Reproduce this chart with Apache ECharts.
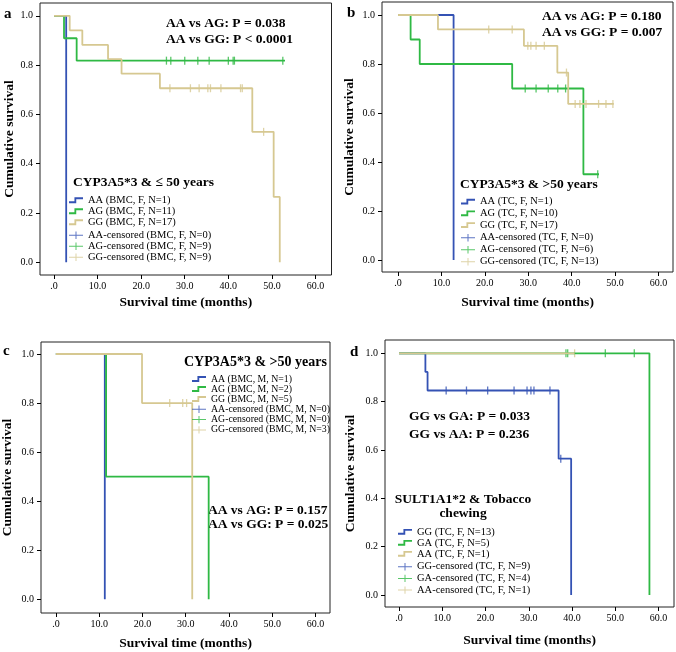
<!DOCTYPE html>
<html>
<head>
<meta charset="utf-8">
<script src="https://cdn.jsdelivr.net/npm/echarts@6/dist/echarts.min.js"></script>
<style>
html, body { margin: 0; padding: 0; background: #fff; }
#chart { width: 676px; height: 652px; }
</style>
</head>
<body>
<div id="chart"></div>
<script>
// ticks shared by all four panels
const xTicks = [0, 10, 20, 30, 40, 50, 60];
const yTicks = [0, 0.2, 0.4, 0.6, 0.8, 1.0];

// panel a : CYP3A5*3 & <= 50 years (BMC, F)
const aAA_time = [0, 2.8];
const aAA_surv = [1, 0];
const aAG_time = [0, 2.3, 5.2, 53.0];
const aAG_surv = [1, 0.909, 0.818, 0.818];
const aGG_time = [0, 3.6, 6.5, 12.4, 15.5, 24.3, 45.5, 50.4, 51.8];
const aGG_surv = [1, 0.941, 0.882, 0.824, 0.765, 0.706, 0.529, 0.265, 0];
const aAGc_time = [25.8, 26.8, 30.0, 33.0, 35.6, 40.0, 41.1, 41.4, 52.5];
const aAGc_surv = [0.818, 0.818, 0.818, 0.818, 0.818, 0.818, 0.818, 0.818, 0.818];
const aGGc_time = [26.6, 31.3, 33.3, 35.3, 35.9, 38.3, 42.8, 43.2, 48.1];
const aGGc_surv = [0.706, 0.706, 0.706, 0.706, 0.706, 0.706, 0.706, 0.706, 0.529];

// panel b : CYP3A5*3 & >50 years (TC, F)
const bAA_time = [0, 12.8];
const bAA_surv = [1, 0];
const bAG_time = [0, 2.9, 5.0, 26.3, 42.7, 46.3];
const bAG_surv = [1, 0.9, 0.8, 0.7, 0.35, 0.35];
const bGG_time = [0, 9.2, 29.0, 36.7, 39.2, 49.7];
const bGG_surv = [1, 0.941, 0.874, 0.765, 0.637, 0.637];
const bAGc_time = [29.3, 31.8, 34.6, 36.8, 38.6, 46.0];
const bAGc_surv = [0.7, 0.7, 0.7, 0.7, 0.7, 0.35];
const bGGc_time = [20.9, 26.3, 29.9, 30.6, 31.8, 33.7, 38.8, 40.8, 41.9, 43.3, 46.2, 47.9, 49.5];
const bGGc_surv = [0.941, 0.941, 0.874, 0.874, 0.874, 0.874, 0.765, 0.637, 0.637, 0.637, 0.637, 0.637, 0.637];

// panel c : CYP3A5*3 & >50 years (BMC, M)
const cAA_time = [0, 11.3];
const cAA_surv = [1, 0];
const cAG_time = [0, 11.6, 35.3];
const cAG_surv = [1, 0.5, 0];
const cGG_time = [0, 19.9, 31.5];
const cGG_surv = [1, 0.8, 0];
const cGGc_time = [26.3, 29.3, 30.2];
const cGGc_surv = [0.8, 0.8, 0.8];

// panel d : SULT1A1*2 & Tobacco chewing (TC, F)
const dGG_time = [0, 6.1, 6.6, 36.9, 39.8];
const dGG_surv = [1, 0.923, 0.846, 0.564, 0];
const dGA_time = [0, 57.9];
const dGA_surv = [1, 0];
const dAA_time = [0, 40.6];
const dAA_surv = [1, 1];
const dGGc_time = [10.9, 15.6, 20.5, 26.6, 29.6, 30.5, 31.2, 34.9, 37.4];
const dGGc_surv = [0.846, 0.846, 0.846, 0.846, 0.846, 0.846, 0.846, 0.846, 0.564];
const dGAc_time = [38.6, 39.0, 47.7, 54.4];
const dGAc_surv = [1, 1, 1, 1];
const dAAc_time = [40.6];
const dAAc_surv = [1];

const FONT = "'Liberation Serif', 'Times New Roman', serif";
const BLUE = '#3452b4';
const GREEN = '#2fb944';
const TAN = '#d6c891';

// legend glyphs: a small step, and a line crossed by a censor tick
const STEP_ICON = 'path://M0,46 L66,46 L66,0 L170,0 L170,22 L88,22 L88,70 L0,70 Z';
const CENS_ICON = 'path://M0,39 L79,39 L79,0 L91,0 L91,39 L170,39 L170,51 L91,51 L91,90 L79,90 L79,51 L0,51 Z';

// frame of each panel and the axis span it covers
const panels = [
    {left: 40, top: 3, width: 291.5, height: 272, xMin: -3.21, xMax: 63.67, yMin: -0.052, yMax: 1.052, yGap: 23.5, xGap: 21},
    {left: 382, top: 2, width: 291, height: 270, xMin: -3.69, xMax: 63.34, yMin: -0.049, yMax: 1.053, yGap: 25, xGap: 24},
    {left: 39, top: 342, width: 291, height: 271, xMin: -3.44, xMax: 63.33, yMin: -0.056, yMax: 1.049, yGap: 26, xGap: 23.5},
    {left: 385, top: 340, width: 289, height: 267, xMin: -3.24, xMax: 63.58, yMin: -0.05, yMax: 1.055, yGap: 27, xGap: 26.5}
];

const pairs = (t, s) => t.map((v, i) => [v, s[i]]);

const stepSeries = (name, color, t, s, gi) => ({
    type: 'line', name, xAxisIndex: gi, yAxisIndex: gi, step: 'end',
    symbol: 'none', showSymbol: false, silent: true,
    data: pairs(t, s),
    lineStyle: {color, width: 1.8},
    itemStyle: {color}
});

const censSeries = (name, color, t, s, gi) => ({
    type: 'scatter', name, xAxisIndex: gi, yAxisIndex: gi, silent: true,
    symbol: 'rect', symbolSize: [1.3, 8],
    data: pairs(t, s),
    itemStyle: {color}
});

const series = [
    stepSeries('AA (BMC, F, N=1)', BLUE, aAA_time, aAA_surv, 0),
    stepSeries('AG (BMC, F, N=11)', GREEN, aAG_time, aAG_surv, 0),
    stepSeries('GG (BMC, F, N=17)', TAN, aGG_time, aGG_surv, 0),
    censSeries('AA-censored (BMC, F, N=0)', BLUE, [], [], 0),
    censSeries('AG-censored (BMC, F, N=9)', GREEN, aAGc_time, aAGc_surv, 0),
    censSeries('GG-censored (BMC, F, N=9)', TAN, aGGc_time, aGGc_surv, 0),

    stepSeries('AA (TC, F, N=1)', BLUE, bAA_time, bAA_surv, 1),
    stepSeries('AG (TC, F, N=10)', GREEN, bAG_time, bAG_surv, 1),
    stepSeries('GG (TC, F, N=17)', TAN, bGG_time, bGG_surv, 1),
    censSeries('AA-censored (TC, F, N=0)', BLUE, [], [], 1),
    censSeries('AG-censored (TC, F, N=6)', GREEN, bAGc_time, bAGc_surv, 1),
    censSeries('GG-censored (TC, F, N=13)', TAN, bGGc_time, bGGc_surv, 1),

    stepSeries('AA (BMC, M, N=1)', BLUE, cAA_time, cAA_surv, 2),
    stepSeries('AG (BMC, M, N=2)', GREEN, cAG_time, cAG_surv, 2),
    stepSeries('GG (BMC, M, N=5)', TAN, cGG_time, cGG_surv, 2),
    censSeries('AA-censored (BMC, M, N=0)', BLUE, [], [], 2),
    censSeries('AG-censored (BMC, M, N=0)', GREEN, [], [], 2),
    censSeries('GG-censored (BMC, M, N=3)', TAN, cGGc_time, cGGc_surv, 2),

    stepSeries('GG (TC, F, N=13)', BLUE, dGG_time, dGG_surv, 3),
    stepSeries('GA (TC, F, N=5)', GREEN, dGA_time, dGA_surv, 3),
    stepSeries('AA (TC, F, N=1)', TAN, dAA_time, dAA_surv, 3),
    censSeries('GG-censored (TC, F, N=9)', BLUE, dGGc_time, dGGc_surv, 3),
    censSeries('GA-censored (TC, F, N=4)', GREEN, dGAc_time, dGAc_surv, 3),
    censSeries('AA-censored (TC, F, N=1)', TAN, dAAc_time, dAAc_surv, 3)
];

// legend block: textLeft and the centre of its first row
const legendBlock = (names, colors, textLeft, firstCenter, rowH, cens, fontSize) => ({
    orient: 'vertical', left: textLeft - 19, top: firstCenter - rowH / 2,
    padding: 0, itemGap: 0, itemWidth: 14, itemHeight: cens ? 9 : 6,
    icon: cens ? CENS_ICON : STEP_ICON, selectedMode: false,
    itemStyle: {borderWidth: 0},
    data: names.map((n, i) => ({name: n, icon: cens ? CENS_ICON : STEP_ICON, itemStyle: {color: colors[i], borderWidth: 0}})),
    textStyle: {fontFamily: FONT, fontSize, lineHeight: rowH, color: '#000'}
});

const legends = [
    legendBlock(['AA (BMC, F, N=1)', 'AG (BMC, F, N=11)', 'GG (BMC, F, N=17)'], [BLUE, GREEN, TAN], 88, 200, 10.5, false, 10.5),
    legendBlock(['AA-censored (BMC, F, N=0)', 'AG-censored (BMC, F, N=9)', 'GG-censored (BMC, F, N=9)'], [BLUE, GREEN, TAN], 88, 235.3, 11, true, 10.5),
    legendBlock(['AA (TC, F, N=1)', 'AG (TC, F, N=10)', 'GG (TC, F, N=17)'], [BLUE, GREEN, TAN], 480, 201.7, 11.7, false, 10.5),
    legendBlock(['AA-censored (TC, F, N=0)', 'AG-censored (TC, F, N=6)', 'GG-censored (TC, F, N=13)'], [BLUE, GREEN, TAN], 480, 237.7, 12, true, 10.5),
    legendBlock(['AA (BMC, M, N=1)', 'AG (BMC, M, N=2)', 'GG (BMC, M, N=5)'], [BLUE, GREEN, TAN], 211, 379, 10, false, 9.8),
    legendBlock(['AA-censored (BMC, M, N=0)', 'AG-censored (BMC, M, N=0)', 'GG-censored (BMC, M, N=3)'], [BLUE, GREEN, TAN], 211, 409.3, 10.3, true, 9.8),
    legendBlock(['GG (TC, F, N=13)', 'GA (TC, F, N=5)', 'AA (TC, F, N=1)'], [BLUE, GREEN, TAN], 417, 531.7, 10.8, false, 10.5),
    legendBlock(['GG-censored (TC, F, N=9)', 'GA-censored (TC, F, N=4)', 'AA-censored (TC, F, N=1)'], [BLUE, GREEN, TAN], 417, 566.7, 11.7, true, 10.5)
];

const txt = (text, x, y, size, align) => ({
    type: 'text', x, y, silent: true,
    style: {
        text, fill: '#000', fontFamily: FONT, fontSize: size, fontWeight: 'bold',
        textAlign: align || 'left', align: align || 'left',
        textVerticalAlign: 'middle', verticalAlign: 'middle'
    }
});

const texts = [
    txt('a', 4, 14, 15), txt('b', 347, 13, 15), txt('c', 3, 351, 15), txt('d', 350, 352, 15),
    txt('AA vs AG: P = 0.038', 166, 23.3, 13.5), txt('AA vs GG: P < 0.0001', 166, 40, 13.5),
    txt('AA vs AG: P = 0.180', 542, 16.5, 13.5), txt('AA vs GG: P = 0.007', 542, 33, 13.5),
    txt('AA vs AG: P = 0.157', 208, 510.7, 13.5), txt('AA vs GG: P = 0.025', 208, 525, 13.5),
    txt('GG vs GA: P = 0.033', 409, 417, 13.5), txt('GG vs AA: P = 0.236', 409, 434.3, 13.5),
    txt('CYP3A5*3 & \u2264 50 years', 73, 182.7, 13.5),
    txt('CYP3A5*3 & >50 years', 460, 185, 13.5),
    txt('CYP3A5*3 & >50 years', 184, 362.3, 14),
    txt('SULT1A1*2 & Tobacco', 463, 500, 13.5, 'center'),
    txt('chewing', 463, 514, 13.5, 'center')
];

const grids = panels.map(p => ({
    left: p.left, top: p.top, width: p.width, height: p.height,
    show: true, borderColor: '#222', borderWidth: 1, backgroundColor: '#fff'
}));

const xAxes = panels.map((p, i) => ({
    type: 'value', gridIndex: i, min: p.xMin, max: p.xMax, position: 'bottom',
    name: 'Survival time (months)', nameLocation: 'middle', nameGap: p.xGap,
    nameTextStyle: {fontFamily: FONT, fontSize: 13.5, fontWeight: 'bold', color: '#000'},
    axisLine: {show: false, onZero: false},
    axisTick: {show: true, inside: false, length: 4, customValues: xTicks, lineStyle: {color: '#000'}},
    axisLabel: {customValues: xTicks, margin: 6, fontFamily: FONT, fontSize: 10, color: '#000',
        formatter: v => v === 0 ? '.0' : v.toFixed(1)},
    splitLine: {show: false}
}));

const yAxes = panels.map((p, i) => ({
    type: 'value', gridIndex: i, min: p.yMin, max: p.yMax,
    name: 'Cumulative survival', nameLocation: 'middle', nameGap: p.yGap,
    nameTextStyle: {fontFamily: FONT, fontSize: 13.5, fontWeight: 'bold', color: '#000'},
    axisLine: {show: false, onZero: false},
    axisTick: {show: true, inside: false, length: 4, customValues: yTicks, lineStyle: {color: '#000'}},
    axisLabel: {customValues: yTicks, margin: 7, fontFamily: FONT, fontSize: 10, color: '#000',
        formatter: v => v.toFixed(1)},
    splitLine: {show: false}
}));

const chart = echarts.init(document.getElementById('chart'));
chart.setOption({
    animation: false,
    backgroundColor: '#fff',
    grid: grids,
    xAxis: xAxes,
    yAxis: yAxes,
    legend: legends,
    series: series,
    graphic: texts
});
</script>
</body>
</html>
